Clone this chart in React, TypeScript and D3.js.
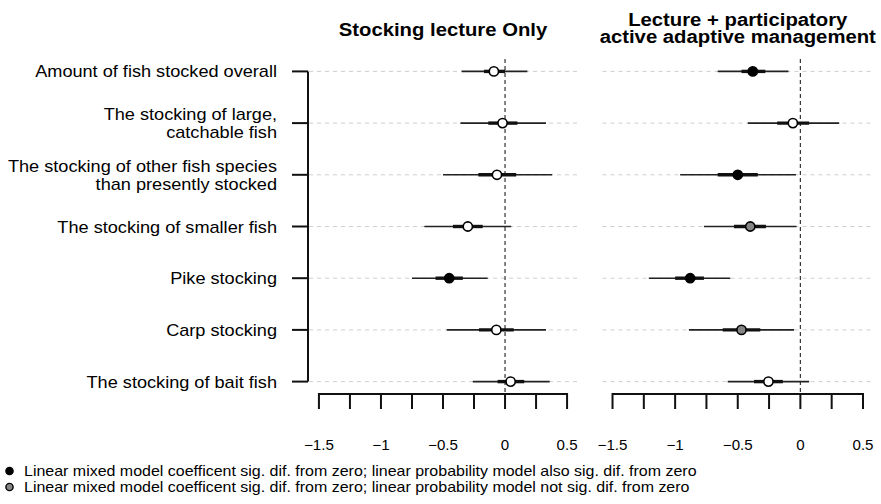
import * as d3 from 'd3';

const W = 881
	, H = 504
	, FONT = '"Liberation Sans", Arial, sans-serif'
	, STRETCH = 1.08
	;

// row labels, top to bottom (each entry = lines)
const rowLabels = [
	['Amount of fish stocked overall']
	, ['The stocking of large,', 'catchable fish']
	, ['The stocking of other fish species', 'than presently stocked']
	, ['The stocking of smaller fish']
	, ['Pike stocking']
	, ['Carp stocking']
	, ['The stocking of bait fish']
];

const xTicks = [-1.5, -1.25, -1, -0.75, -0.5, -0.25, 0, 0.25, 0.5];
const xTickLabels = [-1.5, -1, -0.5, 0, 0.5];

// panel 1: stocking lecture only
const lectEst = [-0.09, -0.02, -0.065, -0.30, -0.45, -0.07, 0.045];
const lectLo95 = [-0.35, -0.36, -0.50, -0.65, -0.75, -0.47, -0.26];
const lectHi95 = [0.18, 0.33, 0.38, 0.05, -0.14, 0.33, 0.36];
const lectLo50 = [-0.17, -0.135, -0.215, -0.42, -0.56, -0.21, -0.06];
const lectHi50 = [0.0, 0.10, 0.09, -0.18, -0.34, 0.07, 0.155];
// 2 = sig both, 1 = sig mixed only, 0 = not sig
const lectSig = [0, 0, 0, 0, 2, 0, 0];

// panel 2: lecture + participatory AAM
const aamEst = [-0.38, -0.06, -0.50, -0.40, -0.88, -0.47, -0.255];
const aamLo95 = [-0.66, -0.42, -0.96, -0.77, -1.21, -0.89, -0.58];
const aamHi95 = [-0.095, 0.31, -0.035, -0.03, -0.56, -0.05, 0.07];
const aamLo50 = [-0.47, -0.185, -0.66, -0.53, -1.0, -0.62, -0.37];
const aamHi50 = [-0.28, 0.07, -0.34, -0.275, -0.77, -0.32, -0.14];
const aamSig = [2, 0, 2, 1, 2, 1, 0];

const legendItems = [
	{sig: 2, text: 'Linear mixed model coefficent sig. dif. from zero; linear probability model also sig. dif. from zero'}
	, {sig: 1, text: 'Linear mixed model coefficent sig. dif. from zero; linear probability model not sig. dif. from zero'}
];

const fillFor = (s: number)=>s === 2 ? '#000' : s === 1 ? '#868686' : '#fff';

const y = d3.scaleLinear().domain([0.76, 7.24]).range([59, 394]);

// text slightly wider than the font, like the source image
function T({x, y, children, ...rest}: any){
	return (<text transform={`translate(${x},${y}) scale(${STRETCH},1)`} {...rest}>{children}</text>);
}

function Panel({x0, x1, title, est, lo95, hi95, lo50, hi50, sig}: any){
	const x = d3.scaleLinear().domain([-1.58, 0.58]).range([x0, x1])
		, cx = (x0 + x1) / 2
		, rows = d3.range(1, 8)
		, fmt = (v: number)=>v < 0 ? '\u2212' + Math.abs(v) : String(v)
		;

	return (<g>
		{title.map((t: string, i: number)=>(<T key={i}
			x={cx}
			y={title.length === 1 ? 36 : 26 + i * 17}
			textAnchor="middle"
			fontWeight="bold"
			fontSize={18.8}>{t}</T>))}
		{rows.map((r)=>(<line key={'g' + r}
			x1={x0} x2={x1} y1={y(r)} y2={y(r)}
			stroke="#cfcfcf" strokeDasharray="4,4" strokeWidth={1} />))}
		<line x1={x(0)} x2={x(0)} y1={59} y2={394}
			stroke="#333" strokeDasharray="4,3" strokeWidth={1.2} />
		{rows.map((r, i)=>(<g key={'d' + r}>
			<line x1={x(lo95[i])} x2={x(hi95[i])} y1={y(r)} y2={y(r)} stroke="#222" strokeWidth={1.6} />
			<line x1={x(lo50[i])} x2={x(hi50[i])} y1={y(r)} y2={y(r)} stroke="#111" strokeWidth={3.4} />
			<circle cx={x(est[i])} cy={y(r)} r={4.6} fill={fillFor(sig[i])} stroke="#000" strokeWidth={1.6} />
		</g>))}
		<line x1={x(xTicks[0])} x2={x(xTicks[xTicks.length - 1])} y1={394} y2={394} stroke="#111" strokeWidth={2} />
		{xTicks.map((t)=>(<line key={'t' + t} x1={x(t)} x2={x(t)} y1={393} y2={409} stroke="#111" strokeWidth={2} />))}
		{xTickLabels.map((t)=>(<T key={'l' + t} x={x(t)} y={450} textAnchor="middle" fontSize={14}>{fmt(t)}</T>))}
	</g>);
}

export default function App(){
	return (<svg width={W} height={H} style={{display: 'block', position: 'absolute', left: 0, top: 0, background: '#fff'}}
		fontFamily={FONT}>
		<rect width={W} height={H} fill="#fff" />
		{/* y axis */}
		<line x1={308} x2={308} y1={y(1)} y2={y(7)} stroke="#111" strokeWidth={2} />
		{rowLabels.map((lines, i)=>{
			const yy = y(i + 1)
				;
			return (<g key={i}>
				<line x1={292} x2={308} y1={yy} y2={yy} stroke="#111" strokeWidth={2} />
				{lines.map((s, j)=>(<T key={j}
					x={277}
					y={yy + 6 + (j - (lines.length - 1) / 2) * 17.7}
					textAnchor="end"
					fontSize={16.8}>{s}</T>))}
			</g>);
		})}
		<Panel x0={309} x1={577} title={['Stocking lecture Only']}
			est={lectEst} lo95={lectLo95} hi95={lectHi95} lo50={lectLo50} hi50={lectHi50} sig={lectSig} />
		<Panel x0={602.5} x1={873} title={['Lecture + participatory', 'active adaptive management']}
			est={aamEst} lo95={aamLo95} hi95={aamHi95} lo50={aamLo50} hi50={aamHi50} sig={aamSig} />
		{legendItems.map((it, i)=>(<g key={i}>
			<circle cx={9.5} cy={471 + i * 16} r={3.6} fill={fillFor(it.sig)} stroke="#000" strokeWidth={1.4} />
			<T x={24} y={476 + i * 16} fontSize={14.8}>{it.text}</T>
		</g>))}
	</svg>);
}
